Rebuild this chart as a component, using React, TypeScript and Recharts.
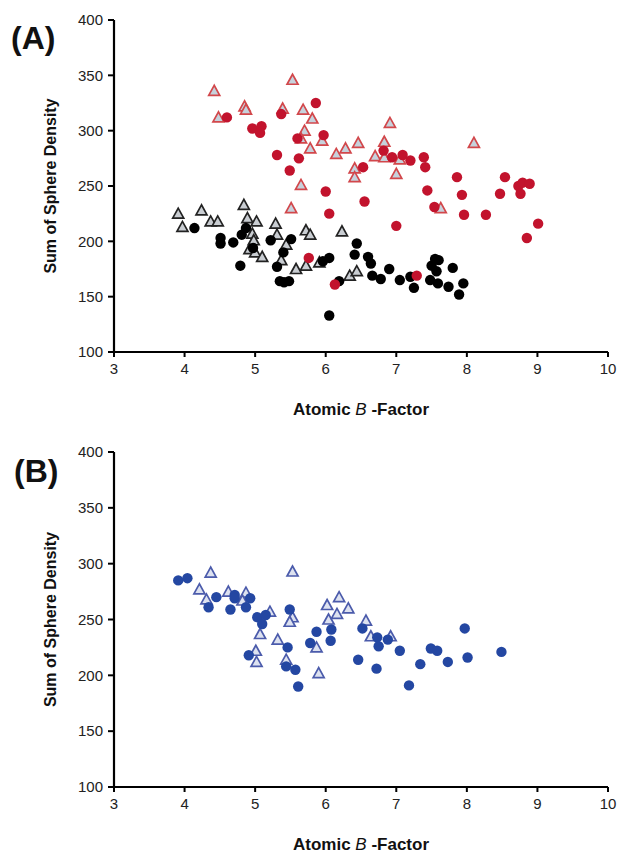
import React from "react";
import { ScatterChart, Scatter, XAxis, YAxis } from "recharts";

const xTicks = [3, 4, 5, 6, 7, 8, 9, 10];
const yTicks = [100, 150, 200, 250, 300, 350, 400];

// panel A
const redTriangles = [
  [4.42, 336], [4.48, 312], [4.85, 322], [4.87, 319], [5.53, 346], [5.39, 320], [5.68, 319],
  [5.81, 311], [5.7, 300], [5.65, 293], [5.95, 291], [5.78, 284], [6.15, 279], [6.28, 284],
  [6.46, 289], [6.41, 266], [6.41, 258], [5.65, 251], [5.51, 230], [6.91, 307], [6.83, 290],
  [6.7, 277], [6.83, 276], [7.05, 274], [7.0, 261], [8.1, 289], [7.63, 230],
];
const redCircles = [
  [4.6, 312], [4.96, 302], [5.09, 304], [5.07, 298], [5.37, 315], [5.86, 325], [5.6, 293],
  [5.97, 296], [5.31, 278], [5.62, 275], [5.49, 264], [6.0, 245], [6.05, 225], [6.82, 282],
  [6.94, 276], [7.09, 278], [7.2, 273], [7.39, 276], [7.41, 267], [6.53, 267], [7.86, 258],
  [8.54, 258], [8.73, 250], [8.79, 253], [8.89, 252], [8.76, 243], [8.47, 243], [7.93, 242],
  [7.44, 246], [6.55, 236], [7.54, 231], [7.96, 224], [8.27, 224], [9.01, 216], [7.0, 214],
  [8.85, 203], [5.76, 185], [6.13, 161], [7.29, 169],
];
const blackTriangles = [
  [3.91, 225], [3.97, 213], [4.24, 228], [4.37, 218], [4.47, 218], [4.84, 233], [4.89, 221],
  [5.02, 218], [4.96, 207], [4.98, 201], [4.92, 193], [5.0, 190], [5.1, 186], [5.29, 216],
  [5.31, 206], [5.44, 197], [5.37, 183], [5.58, 175], [5.72, 178], [5.72, 210], [5.78, 206],
  [6.23, 209], [6.34, 169], [6.44, 173], [5.91, 181],
];
const blackCircles = [
  [4.14, 212], [4.51, 203], [4.51, 198], [4.69, 199], [4.81, 206], [4.87, 212], [4.79, 178],
  [4.97, 194], [5.22, 201], [5.51, 202], [5.4, 190], [5.31, 177], [5.35, 164], [5.41, 163],
  [5.48, 164], [5.96, 182], [6.05, 185], [6.19, 164], [6.05, 133], [6.44, 198], [6.41, 188],
  [6.6, 186], [6.64, 180], [6.66, 169], [6.78, 166], [6.9, 175], [7.05, 165], [7.2, 168],
  [7.25, 158], [7.48, 165], [7.55, 184], [7.6, 183], [7.5, 178], [7.57, 173], [7.59, 162],
  [7.74, 159], [7.8, 176], [7.95, 162], [7.89, 152],
];

// panel B
const blueCircles = [
  [3.91, 285], [4.04, 287], [4.45, 270], [4.34, 261], [4.65, 259], [4.71, 272], [4.71, 269],
  [4.93, 269], [4.87, 261], [5.03, 252], [5.15, 254], [5.1, 246], [5.49, 259], [5.46, 225],
  [4.91, 218], [5.44, 208], [5.57, 205], [5.61, 190], [5.78, 229], [5.87, 239], [6.08, 241],
  [6.07, 231], [6.46, 214], [6.52, 242], [6.73, 234], [6.75, 226], [6.88, 232], [6.72, 206],
  [7.05, 222], [7.18, 191], [7.34, 210], [7.49, 224], [7.58, 222], [7.73, 212], [7.97, 242],
  [8.01, 216], [8.49, 221],
];
const blueTriangles = [
  [4.37, 292], [5.53, 293], [4.21, 277], [4.31, 268], [4.62, 275], [4.87, 274], [4.82, 267],
  [5.21, 257], [5.53, 252], [5.49, 248], [5.07, 237], [5.32, 232], [5.01, 222], [5.02, 212],
  [5.44, 214], [5.87, 225], [5.9, 202], [6.02, 263], [6.19, 270], [6.32, 260], [6.04, 250],
  [6.16, 255], [6.57, 249], [6.64, 235], [6.92, 235],
];

const toPts = (arr: number[][]) => arr.map(([x, y]) => ({ x, y }));

const FONT = "'Liberation Sans', Arial, sans-serif";

const triangle = (stroke: string, fill: string) => (p: any) => {
  const { cx, cy } = p;
  if (cx == null || cy == null) return <g />;
  return (
    <polygon
      points={`${cx},${cy - 5.5} ${cx - 5.5},${cy + 4.5} ${cx + 5.5},${cy + 4.5}`}
      fill={fill}
      stroke={stroke}
      strokeWidth={1.7}
    />
  );
};

const circle = (fill: string) => (p: any) => {
  const { cx, cy } = p;
  if (cx == null || cy == null) return <g />;
  return <circle cx={cx} cy={cy} r={5.2} fill={fill} />;
};

const XLabel = (props: any) => {
  const vb = props.viewBox;
  return (
    <text
      x={vb.x + vb.width / 2}
      y={vb.y + 63}
      textAnchor="middle"
      fontFamily={FONT}
      fontSize={17}
      fontWeight="bold"
      fill="#111"
    >
      Atomic <tspan fontStyle="italic" fontWeight="normal">B</tspan> -Factor
    </text>
  );
};

const YLabel = (props: any) => {
  const vb = props.viewBox;
  const x = 56;
  const y = vb.y + vb.height / 2;
  return (
    <text
      x={x}
      y={y}
      transform={`rotate(-90, ${x}, ${y})`}
      textAnchor="middle"
      fontFamily={FONT}
      fontSize={16}
      fontWeight="bold"
      fill="#111"
    >
      Sum of Sphere Density
    </text>
  );
};

const axisLine = { stroke: "#000", strokeWidth: 2.2 };
const tickLine = { stroke: "#000", strokeWidth: 2 };
const tickStyle = { fill: "#222", fontSize: 15, fontFamily: FONT };

function Panel({ series, bottom }: { series: React.ReactNode; bottom: number }) {
  return (
    <ScatterChart width={621} height={430} margin={{ top: 20, right: 13, bottom, left: 0 }}>
      <XAxis
        type="number"
        dataKey="x"
        domain={[3, 10]}
        ticks={xTicks}
        height={60}
        tickSize={5}
        tickMargin={6}
        axisLine={axisLine}
        tickLine={tickLine}
        tick={tickStyle}
        label={{ content: XLabel }}
      />
      <YAxis
        type="number"
        dataKey="y"
        domain={[100, 400]}
        ticks={yTicks}
        width={114}
        tickSize={6}
        tickMargin={5}
        axisLine={axisLine}
        tickLine={tickLine}
        tick={tickStyle}
        label={{ content: YLabel }}
      />
      {series}
    </ScatterChart>
  );
}

const tagStyle: React.CSSProperties = {
  position: "absolute",
  fontFamily: FONT,
  fontWeight: "bold",
  fontSize: 32,
  lineHeight: "32px",
  color: "#111",
};

export default function App() {
  return (
    <div style={{ position: "absolute", left: 0, top: 0, width: 621, height: 855, background: "#fff" }}>
      <div style={{ position: "absolute", left: 0, top: 0 }}>
        <Panel
          bottom={18}
          series={[
            <Scatter key="bt" data={toPts(blackTriangles)} shape={triangle("#222", "#c9cdd2")} isAnimationActive={false} />,
            <Scatter key="bc" data={toPts(blackCircles)} shape={circle("#000")} isAnimationActive={false} />,
            <Scatter key="rt" data={toPts(redTriangles)} shape={triangle("#d2474b", "#c6d2dc")} isAnimationActive={false} />,
            <Scatter key="rc" data={toPts(redCircles)} shape={circle("#c2132d")} isAnimationActive={false} />,
          ]}
        />
      </div>
      <div style={{ position: "absolute", left: 0, top: 432 }}>
        <Panel
          bottom={15}
          series={[
            <Scatter key="ut" data={toPts(blueTriangles)} shape={triangle("#4b5bab", "#dde2f0")} isAnimationActive={false} />,
            <Scatter key="uc" data={toPts(blueCircles)} shape={circle("#2447a2")} isAnimationActive={false} />,
          ]}
        />
      </div>
      <div style={{ ...tagStyle, left: 11, top: 22 }}>(A)</div>
      <div style={{ ...tagStyle, left: 14, top: 455 }}>(B)</div>
    </div>
  );
}
